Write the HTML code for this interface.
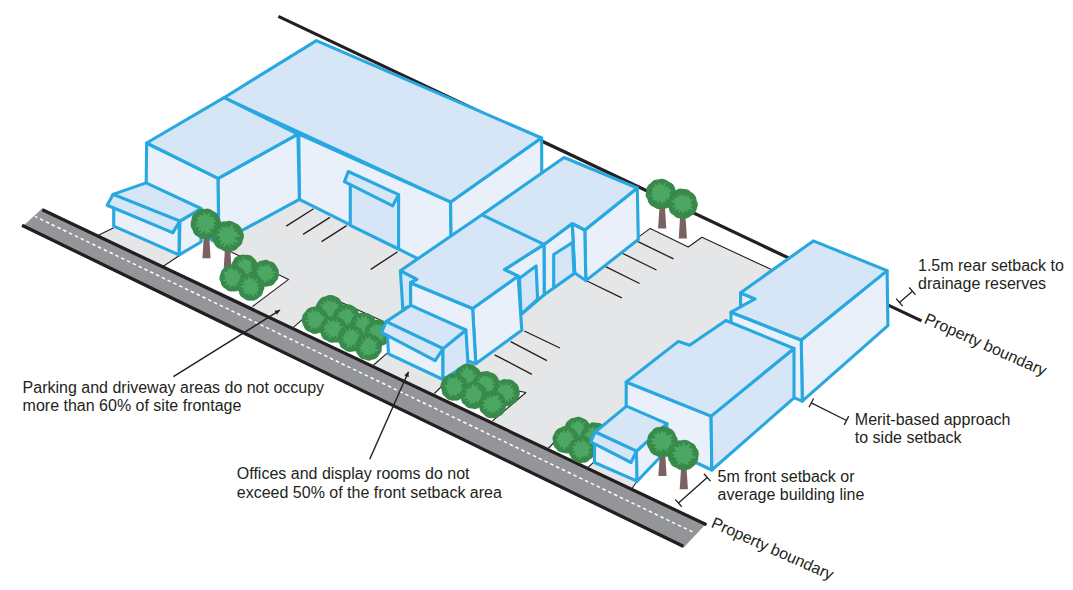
<!DOCTYPE html>
<html><head><meta charset="utf-8"><style>
html,body{margin:0;padding:0;background:#fff;}
#c{position:relative;width:1073px;height:590px;overflow:hidden;background:#fff;font-family:"Liberation Sans",sans-serif;font-size:16px;color:#231f20;}
svg{position:absolute;left:0;top:0;}
.t{position:absolute;white-space:nowrap;line-height:18.4px;}
.r{position:absolute;white-space:nowrap;transform-origin:0 0;}
</style></head><body><div id="c">
<svg width="1073" height="590" viewBox="0 0 1073 590">
<polyline points="278.4,16.4 921.5,320.9" fill="none" stroke="#231f20" stroke-width="3.2" stroke-linecap="butt" stroke-linejoin="round" />
<polygon points="98.4,235.3 113.7,227.7 146.0,200.0 224.0,160.0 299.0,185.0 451.0,240.0 500.0,215.0 560.0,215.0 638.7,236.9 650.2,228.4 688.3,247.0 701.9,237.2 772.3,270.0 790.0,300.0 760.0,320.0 700.0,360.0 640.0,400.0 637.1,481.2 632.5,489.0 98.4,235.3" fill="#e5e6e8" />
<polyline points="98.4,235.3 113.7,227.7" fill="none" stroke="#231f20" stroke-width="1.1" stroke-linecap="butt" stroke-linejoin="round" />
<polyline points="638.7,236.9 650.2,228.4 688.3,247.0 701.9,237.2 772.3,270.0" fill="none" stroke="#231f20" stroke-width="1.1" stroke-linecap="butt" stroke-linejoin="round" />
<polyline points="637.1,481.2 632.0,488.5" fill="none" stroke="#231f20" stroke-width="1.1" stroke-linecap="butt" stroke-linejoin="round" />
<polygon points="163.7,265.5 178.0,256.5 203.5,241.2 217.0,245.2 288.6,279.4 252.5,306.5" fill="#ffffff" />
<polyline points="163.7,266.0 179.5,255.5" fill="none" stroke="#231f20" stroke-width="1.1" stroke-linecap="butt" stroke-linejoin="round" />
<polyline points="217.0,245.2 288.6,279.4 252.5,306.5" fill="none" stroke="#231f20" stroke-width="1.1" stroke-linecap="butt" stroke-linejoin="round" />
<polygon points="293.4,327.3 328.3,296.6 383.5,321.6 388.0,352.3 373.6,365.0" fill="#ffffff" />
<polyline points="293.4,327.3 328.3,296.6 383.5,321.6" fill="none" stroke="#231f20" stroke-width="1.1" stroke-linecap="butt" stroke-linejoin="round" />
<polyline points="388.0,352.3 373.6,365.0" fill="none" stroke="#231f20" stroke-width="1.1" stroke-linecap="butt" stroke-linejoin="round" />
<polygon points="434.4,393.5 450.0,378.0 525.9,392.5 492.5,420.8" fill="#ffffff" />
<polyline points="434.4,393.5 450.0,378.0 525.9,392.5 492.5,420.8" fill="none" stroke="#231f20" stroke-width="1.1" stroke-linecap="butt" stroke-linejoin="round" />
<polygon points="548.3,448.5 560.0,436.0 600.0,445.0 594.0,461.8 588.5,467.0" fill="#ffffff" />
<polyline points="548.3,448.5 560.0,436.0" fill="none" stroke="#231f20" stroke-width="1.1" stroke-linecap="butt" stroke-linejoin="round" />
<polyline points="594.0,461.8 588.5,467.0" fill="none" stroke="#231f20" stroke-width="1.1" stroke-linecap="butt" stroke-linejoin="round" />
<polyline points="286.2,226.1 313.6,208.7" fill="none" stroke="#231f20" stroke-width="1.3" stroke-linecap="butt" stroke-linejoin="round" />
<polyline points="303.1,234.4 329.9,217.4" fill="none" stroke="#231f20" stroke-width="1.3" stroke-linecap="butt" stroke-linejoin="round" />
<polyline points="321.6,241.6 346.6,225.6" fill="none" stroke="#231f20" stroke-width="1.3" stroke-linecap="butt" stroke-linejoin="round" />
<polyline points="370.7,269.4 397.6,251.8" fill="none" stroke="#231f20" stroke-width="1.3" stroke-linecap="butt" stroke-linejoin="round" />
<polyline points="524.3,331.0 559.9,348.0" fill="none" stroke="#231f20" stroke-width="1.3" stroke-linecap="butt" stroke-linejoin="round" />
<polyline points="510.7,341.7 546.9,360.7" fill="none" stroke="#231f20" stroke-width="1.3" stroke-linecap="butt" stroke-linejoin="round" />
<polyline points="494.6,354.8 531.9,374.3" fill="none" stroke="#231f20" stroke-width="1.3" stroke-linecap="butt" stroke-linejoin="round" />
<polyline points="587.0,281.0 621.8,297.9" fill="none" stroke="#231f20" stroke-width="1.3" stroke-linecap="butt" stroke-linejoin="round" />
<polyline points="605.6,266.6 639.6,283.5" fill="none" stroke="#231f20" stroke-width="1.3" stroke-linecap="butt" stroke-linejoin="round" />
<polyline points="621.8,253.0 656.5,270.0" fill="none" stroke="#231f20" stroke-width="1.3" stroke-linecap="butt" stroke-linejoin="round" />
<polyline points="637.0,241.1 673.5,258.9" fill="none" stroke="#231f20" stroke-width="1.3" stroke-linecap="butt" stroke-linejoin="round" />
<polygon points="42.4,208.2 706.5,523.2 683.3,547.9 22.0,226.9" fill="#939598" />
<polyline points="42.4,209.8 706.5,524.8" fill="none" stroke="#231f20" stroke-width="3.2" stroke-linecap="butt" stroke-linejoin="round" />
<polyline points="22.0,225.3 683.3,546.3" fill="none" stroke="#231f20" stroke-width="3.2" stroke-linecap="butt" stroke-linejoin="round" />
<polyline points="34.8,216.4 692.5,531.9" fill="none" stroke="#ffffff" stroke-width="1.5" stroke-linecap="butt" stroke-linejoin="round" stroke-dasharray="3.5 2.931" stroke-dashoffset="0.64"/>
<polygon points="224.0,97.7 316.4,40.6 541.6,138.0 450.6,202.2" fill="#d6e6f6" stroke="#27a8e0" stroke-width="3.1" stroke-linejoin="round" />
<polygon points="298.8,134.2 450.6,202.2 451.5,275.5 299.4,199.4" fill="#e9f0fa" stroke="#27a8e0" stroke-width="3.1" stroke-linejoin="round" />
<polygon points="450.6,202.2 541.6,138.0 542.0,210.0 451.5,275.5" fill="#e9f0fa" stroke="#27a8e0" stroke-width="3.1" stroke-linejoin="round" />
<polygon points="350.3,183.7 398.6,194.7 398.6,249.0 350.3,225.3" fill="#d6e6f6" stroke="#27a8e0" stroke-width="3.1" stroke-linejoin="round" />
<polygon points="348.3,171.5 398.6,194.7 392.7,205.8 344.4,181.7" fill="#d6e6f6" stroke="#27a8e0" stroke-width="3.1" stroke-linejoin="round" />
<polygon points="146.6,143.0 218.2,178.3 218.8,243.0 146.0,208.0" fill="#e9f0fa" stroke="#27a8e0" stroke-width="3.1" stroke-linejoin="round" />
<polygon points="218.2,178.3 297.9,134.2 299.4,199.4 218.8,243.0" fill="#e9f0fa" stroke="#27a8e0" stroke-width="3.1" stroke-linejoin="round" />
<polygon points="146.6,143.0 224.1,97.7 297.9,134.2 218.2,178.3" fill="#d6e6f6" stroke="#27a8e0" stroke-width="3.1" stroke-linejoin="round" />
<polygon points="113.7,205.0 172.7,232.6 179.2,222.0 179.2,254.9 113.7,226.1" fill="#e9f0fa" stroke="#27a8e0" stroke-width="3.1" stroke-linejoin="round" />
<polygon points="179.9,221.1 201.0,208.5 201.0,242.0 179.2,254.9" fill="#e9f0fa" stroke="#27a8e0" stroke-width="3.1" stroke-linejoin="round" />
<polygon points="113.0,194.4 146.1,182.9 201.0,208.5 179.9,221.1" fill="#d6e6f6" stroke="#27a8e0" stroke-width="3.1" stroke-linejoin="round" />
<polygon points="113.0,194.4 179.9,221.1 172.7,232.6 107.2,205.2" fill="#d6e6f6" stroke="#27a8e0" stroke-width="3.1" stroke-linejoin="round" />
<polygon points="204.3,228.9 208.7,228.9 210.6,258.2 202.4,258.2" fill="#7b6262" />
<path d="M206.6,238.6 A9.3,9.3 0 0 1 197.5,236.4 A7.6,7.6 0 0 1 192.8,230.5 A11.1,11.1 0 0 1 191.6,219.5 A7.5,7.5 0 0 1 195.2,212.9 A10.0,10.0 0 0 1 204.4,208.9 A9.3,9.3 0 0 1 213.4,211.2 A8.3,8.3 0 0 1 219.0,217.3 A11.2,11.2 0 0 1 219.7,228.4 A8.8,8.8 0 0 1 214.7,235.7 A8.6,8.6 0 0 1 206.6,238.6Z" fill="#388a4b"/>
<polygon points="215.6,225.3 212.7,226.7 215.5,230.0 210.0,228.5 211.3,233.9 207.9,231.7 205.7,234.6 204.7,230.4 200.2,234.6 201.0,229.7 197.7,230.7 199.3,227.0 193.8,226.8 198.2,223.8 194.5,222.8 198.3,220.4 196.4,216.7 199.4,217.3 199.6,214.8 203.2,215.8 204.3,211.8 206.5,215.5 210.9,212.0 209.9,217.3 214.4,216.5 212.9,219.4 216.2,220.6 213.4,223.3" fill="#4ca664" />
<polygon points="225.4,241.2 229.8,241.2 231.7,272.0 223.5,272.0" fill="#7b6262" />
<path d="M230.4,251.1 A9.4,9.4 0 0 1 221.2,249.5 A10.1,10.1 0 0 1 213.7,242.6 A10.7,10.7 0 0 1 213.1,231.9 A7.8,7.8 0 0 1 217.3,225.3 A9.5,9.5 0 0 1 225.9,221.4 A8.8,8.8 0 0 1 234.6,222.8 A11.8,11.8 0 0 1 242.6,231.4 A9.2,9.2 0 0 1 242.7,240.6 A7.6,7.6 0 0 1 238.5,246.9 A9.1,9.1 0 0 1 230.4,251.1Z" fill="#388a4b"/>
<polygon points="234.9,246.3 230.0,242.8 230.5,247.7 227.7,243.5 222.7,248.1 224.6,242.1 219.3,245.8 222.0,240.5 218.3,240.3 220.5,236.8 215.0,235.0 220.4,233.1 217.6,229.1 222.6,230.4 220.7,225.9 225.4,227.9 226.1,225.0 228.0,228.5 232.9,223.6 232.3,229.2 235.6,228.0 233.6,231.8 237.8,231.7 236.4,233.8 240.7,235.8 234.3,238.2 239.6,242.7 233.0,241.9" fill="#4ca664" />
<polygon points="660.0,199.0 664.4,199.0 666.3,228.4 658.1,228.4" fill="#7b6262" />
<path d="M670.2,205.9 A7.5,7.5 0 0 1 663.2,208.7 A9.7,9.7 0 0 1 653.6,207.0 A10.1,10.1 0 0 1 647.4,199.0 A7.0,7.0 0 0 1 646.0,192.2 A10.4,10.4 0 0 1 650.9,182.9 A8.0,8.0 0 0 1 658.1,179.5 A11.1,11.1 0 0 1 668.9,181.7 A9.8,9.8 0 0 1 675.3,189.2 A6.6,6.6 0 0 1 675.4,195.8 A11.4,11.4 0 0 1 670.2,205.9Z" fill="#388a4b"/>
<polygon points="673.2,195.3 668.4,196.9 671.4,200.5 665.5,198.6 665.9,202.1 662.7,202.1 662.0,204.4 659.4,200.6 657.7,203.5 656.5,200.4 652.5,200.0 653.7,196.9 648.4,196.4 652.8,194.8 651.1,192.9 653.0,190.7 652.2,187.6 655.3,186.9 654.6,184.1 658.5,185.3 659.0,182.0 662.7,185.8 665.8,182.1 664.9,187.6 669.5,185.8 668.0,189.1 671.7,189.9 669.2,193.4" fill="#4ca664" />
<polygon points="680.6,208.7 685.0,208.7 686.9,238.5 678.7,238.5" fill="#7b6262" />
<path d="M696.7,201.0 A6.6,6.6 0 0 1 697.1,207.6 A11.0,11.0 0 0 1 690.4,216.3 A7.9,7.9 0 0 1 682.8,218.4 A9.9,9.9 0 0 1 673.4,215.1 A7.8,7.8 0 0 1 669.0,208.7 A9.7,9.7 0 0 1 668.7,198.9 A10.9,10.9 0 0 1 675.6,190.5 A7.9,7.9 0 0 1 683.3,189.1 A8.2,8.2 0 0 1 691.0,192.1 A10.7,10.7 0 0 1 696.7,201.0Z" fill="#388a4b"/>
<polygon points="693.8,209.8 687.3,209.2 687.5,212.4 685.1,210.0 683.1,213.6 681.0,209.9 679.6,212.8 678.1,209.2 674.8,210.8 676.0,207.0 672.1,207.4 675.7,204.2 670.7,200.9 674.7,200.1 673.2,197.5 677.3,198.0 677.8,194.9 680.0,196.0 681.3,193.7 683.6,196.8 686.2,193.8 685.8,197.1 689.2,195.7 689.6,199.4 693.7,199.3 690.1,202.6 693.0,205.5 689.8,206.7" fill="#4ca664" />
<polygon points="584.8,230.0 637.3,188.0 638.3,239.5 585.8,280.6" fill="#e9f0fa" stroke="#27a8e0" stroke-width="3.1" stroke-linejoin="round" />
<polygon points="572.2,223.5 584.8,230.0 585.8,280.6 574.7,272.9" fill="#e9f0fa" stroke="#27a8e0" stroke-width="3.1" stroke-linejoin="round" />
<polygon points="544.0,244.4 572.2,223.5 574.7,272.9 544.2,294.7" fill="#e9f0fa" stroke="#27a8e0" stroke-width="3.1" stroke-linejoin="round" />
<polygon points="553.7,254.5 572.5,242.5 574.0,273.4 553.7,287.9" fill="#d6e6f6" stroke="#27a8e0" stroke-width="3.1" stroke-linejoin="round" />
<polygon points="504.4,269.6 544.0,244.4 544.2,294.7 521.0,314.5 518.1,276.1" fill="#e9f0fa" stroke="#27a8e0" stroke-width="3.1" stroke-linejoin="round" />
<polygon points="519.5,278.2 536.1,266.0 537.6,299.1 521.0,314.3" fill="#d6e6f6" stroke="#27a8e0" stroke-width="3.1" stroke-linejoin="round" />
<polygon points="472.6,308.5 518.1,276.1 521.8,330.2 475.8,363.7" fill="#e9f0fa" stroke="#27a8e0" stroke-width="3.1" stroke-linejoin="round" />
<polygon points="410.5,282.7 472.6,308.5 475.8,363.7 411.0,340.0" fill="#e9f0fa" stroke="#27a8e0" stroke-width="3.1" stroke-linejoin="round" />
<polygon points="400.4,270.7 417.0,279.3 410.5,282.7 410.5,306.0 402.8,309.0" fill="#d6e6f6" stroke="#27a8e0" stroke-width="3.1" stroke-linejoin="round" />
<polygon points="400.4,270.7 482.0,214.8 564.1,157.5 637.3,188.0 584.8,230.0 572.2,223.5 544.0,244.4 504.4,269.6 518.1,276.1 472.6,308.5 410.5,282.7 417.0,279.3" fill="#d6e6f6" stroke="#27a8e0" stroke-width="3.1" stroke-linejoin="round" />
<polyline points="482.0,214.8 544.0,244.4" fill="none" stroke="#27a8e0" stroke-width="3.1" stroke-linecap="butt" stroke-linejoin="round" />
<path d="M245.6,255.0 A8.7,8.7 0 0 1 253.7,258.1 A8.7,8.7 0 0 1 257.4,266.0 A7.2,7.2 0 0 1 256.7,273.2 A8.8,8.8 0 0 1 250.4,279.3 A8.5,8.5 0 0 1 242.0,280.5 A8.1,8.1 0 0 1 235.0,276.5 A7.9,7.9 0 0 1 231.7,269.3 A8.2,8.2 0 0 1 233.1,261.1 A7.1,7.1 0 0 1 238.1,256.1 A7.5,7.5 0 0 1 245.6,255.0Z" fill="#388a4b"/>
<polygon points="253.3,268.3 250.2,268.8 253.3,272.2 248.6,271.5 249.2,275.2 246.4,273.2 245.9,277.5 243.9,273.5 240.7,276.7 239.9,273.5 237.6,276.1 238.4,270.9 235.4,270.7 236.9,268.3 234.1,267.0 238.2,264.9 236.9,262.6 239.0,263.1 239.0,260.0 242.5,261.7 242.5,256.5 245.3,259.9 246.3,258.9 247.6,260.8 250.4,260.3 250.7,263.6 252.3,263.5 250.4,266.5" fill="#4ca664" />
<path d="M276.9,266.9 A7.5,7.5 0 0 1 278.5,274.3 A8.3,8.3 0 0 1 275.4,281.9 A8.6,8.6 0 0 1 267.9,286.2 A8.6,8.6 0 0 1 259.5,284.9 A7.0,7.0 0 0 1 254.0,280.5 A9.9,9.9 0 0 1 252.4,270.7 A7.6,7.6 0 0 1 256.3,264.3 A7.3,7.3 0 0 1 262.6,260.5 A7.1,7.1 0 0 1 269.6,261.3 A9.2,9.2 0 0 1 276.9,266.9Z" fill="#388a4b"/>
<polygon points="273.3,279.6 268.3,278.7 269.4,281.7 266.4,280.6 264.6,282.9 262.7,279.6 259.3,281.5 260.8,277.6 255.7,279.9 259.2,275.6 256.4,274.0 257.9,272.6 255.8,271.0 259.3,269.4 256.8,266.9 261.1,267.1 260.1,263.3 263.5,267.1 266.3,264.1 266.8,266.4 270.1,264.1 269.7,267.5 272.4,268.1 271.9,270.7 276.3,272.4 272.2,274.0 275.3,276.0 271.1,277.4" fill="#4ca664" />
<path d="M245.5,281.4 A9.6,9.6 0 0 1 239.8,289.2 A7.4,7.4 0 0 1 232.6,291.2 A7.6,7.6 0 0 1 225.4,288.8 A8.2,8.2 0 0 1 220.7,282.1 A7.3,7.3 0 0 1 220.2,274.8 A10.1,10.1 0 0 1 226.2,266.7 A7.6,7.6 0 0 1 233.6,265.0 A7.0,7.0 0 0 1 240.1,267.3 A9.6,9.6 0 0 1 245.9,275.0 A6.5,6.5 0 0 1 245.5,281.4Z" fill="#388a4b"/>
<polygon points="237.4,286.3 235.2,284.3 234.5,286.9 232.2,285.1 229.8,288.5 229.4,284.0 225.3,285.2 227.3,281.3 222.2,281.0 225.8,278.3 224.0,276.9 225.3,275.8 222.9,271.4 227.8,271.8 227.7,268.3 230.7,270.2 230.9,266.1 233.5,270.7 236.8,268.4 236.8,272.1 239.1,270.9 237.7,274.1 241.9,273.6 239.5,277.4 244.0,279.2 238.7,279.8 242.2,284.3 237.4,282.1" fill="#4ca664" />
<path d="M263.6,283.9 A7.9,7.9 0 0 1 263.0,291.7 A6.6,6.6 0 0 1 259.2,297.2 A8.8,8.8 0 0 1 251.1,300.6 A8.2,8.2 0 0 1 243.3,298.1 A7.2,7.2 0 0 1 239.0,292.3 A9.4,9.4 0 0 1 238.5,283.0 A6.9,6.9 0 0 1 242.7,277.5 A7.6,7.6 0 0 1 249.5,274.0 A8.4,8.4 0 0 1 257.6,276.3 A9.7,9.7 0 0 1 263.6,283.9Z" fill="#388a4b"/>
<polygon points="257.9,296.2 254.3,293.6 253.5,297.4 250.8,293.5 248.4,295.4 247.8,293.4 243.4,294.2 245.7,290.3 240.8,291.4 244.5,288.7 239.3,286.3 245.0,285.2 240.1,282.2 244.8,282.3 243.8,277.7 247.5,280.8 249.2,275.6 250.5,279.4 252.7,277.8 254.1,281.5 257.6,277.7 256.2,283.1 259.5,283.0 256.9,285.3 260.1,288.0 258.1,288.1 258.7,290.5 256.4,292.3" fill="#4ca664" />
<path d="M325.4,322.8 A8.8,8.8 0 0 1 318.4,317.4 A7.5,7.5 0 0 1 316.2,310.2 A8.4,8.4 0 0 1 317.9,302.1 A9.2,9.2 0 0 1 325.3,296.5 A10.3,10.3 0 0 1 335.6,296.5 A8.1,8.1 0 0 1 341.4,302.1 A7.3,7.3 0 0 1 344.1,308.9 A10.1,10.1 0 0 1 340.8,318.5 A8.4,8.4 0 0 1 333.5,322.7 A8.1,8.1 0 0 1 325.4,322.8Z" fill="#388a4b"/>
<polygon points="339.3,312.6 335.5,312.5 337.5,318.4 333.4,315.6 332.3,321.0 330.1,315.3 328.6,320.6 326.9,316.5 324.5,317.4 325.0,313.9 320.5,315.3 323.5,311.1 318.7,308.9 323.3,308.1 319.6,303.8 324.3,305.1 322.6,299.9 326.3,303.5 327.2,299.3 330.2,302.3 332.0,299.3 332.3,302.9 335.6,301.0 335.2,303.4 339.5,304.5 337.1,306.5 341.6,308.6 336.4,309.6" fill="#4ca664" />
<path d="M358.7,313.4 A7.6,7.6 0 0 1 359.2,320.9 A7.7,7.7 0 0 1 355.2,327.5 A9.5,9.5 0 0 1 346.3,330.9 A6.9,6.9 0 0 1 339.8,328.5 A9.3,9.3 0 0 1 333.7,321.4 A8.3,8.3 0 0 1 333.9,313.1 A7.1,7.1 0 0 1 338.3,307.6 A8.4,8.4 0 0 1 346.1,304.5 A8.5,8.5 0 0 1 354.3,306.7 A7.9,7.9 0 0 1 358.7,313.4Z" fill="#388a4b"/>
<polygon points="356.3,323.1 350.5,322.3 351.8,326.3 348.4,322.7 346.9,328.9 344.8,323.1 343.4,325.6 342.2,321.8 338.4,323.0 340.3,320.8 336.2,320.0 339.1,317.4 336.9,315.5 339.7,314.2 338.7,312.1 342.4,311.8 341.8,308.3 345.1,311.1 346.0,306.6 347.1,309.4 350.5,309.1 350.7,312.0 353.5,309.9 351.3,313.8 355.0,313.8 354.0,317.4 357.3,319.0 353.4,320.1" fill="#4ca664" />
<path d="M350.9,321.3 A9.0,9.0 0 0 1 356.8,314.5 A7.9,7.9 0 0 1 364.6,313.1 A6.3,6.3 0 0 1 370.6,314.8 A8.2,8.2 0 0 1 375.6,321.4 A9.0,9.0 0 0 1 375.7,330.4 A6.5,6.5 0 0 1 372.0,335.7 A8.1,8.1 0 0 1 364.7,339.0 A10.6,10.6 0 0 1 354.5,336.1 A6.0,6.0 0 0 1 351.6,330.9 A9.6,9.6 0 0 1 350.9,321.3Z" fill="#388a4b"/>
<polygon points="369.4,332.9 365.9,332.2 364.2,337.2 362.8,331.7 360.5,335.3 359.2,332.0 357.2,332.7 357.7,328.9 352.5,330.5 355.7,326.6 353.4,325.4 357.4,323.7 353.8,320.4 357.6,321.2 356.8,315.8 360.9,319.8 361.7,314.2 363.2,318.0 366.6,314.9 366.9,319.3 369.4,318.6 368.5,321.8 372.3,321.5 370.8,324.5 372.2,326.1 369.6,327.1 371.0,330.3 368.5,330.8" fill="#4ca664" />
<path d="M391.3,333.6 A8.2,8.2 0 0 1 388.3,341.2 A9.5,9.5 0 0 1 380.0,345.8 A6.9,6.9 0 0 1 373.1,345.1 A7.7,7.7 0 0 1 366.9,340.4 A9.7,9.7 0 0 1 365.0,330.9 A8.5,8.5 0 0 1 369.1,323.4 A7.8,7.8 0 0 1 376.1,319.9 A7.7,7.7 0 0 1 383.7,321.1 A7.7,7.7 0 0 1 389.1,326.6 A7.4,7.4 0 0 1 391.3,333.6Z" fill="#388a4b"/>
<polygon points="385.9,336.2 383.0,337.6 383.5,341.8 380.2,338.8 380.3,341.0 377.0,339.2 375.1,342.5 375.0,338.6 371.2,339.6 371.8,337.1 367.6,337.3 371.7,333.3 366.4,332.1 370.9,331.1 368.8,327.8 372.2,327.6 371.6,325.4 375.5,325.6 375.5,321.9 377.7,325.9 380.2,323.2 380.6,326.3 384.8,323.2 383.3,329.2 388.5,328.7 384.1,331.5 386.8,332.4 385.1,334.9" fill="#4ca664" />
<path d="M324.0,329.6 A7.0,7.0 0 0 1 318.1,333.2 A7.5,7.5 0 0 1 310.6,332.4 A10.3,10.3 0 0 1 303.2,325.2 A6.0,6.0 0 0 1 302.1,319.3 A8.0,8.0 0 0 1 305.2,312.0 A9.6,9.6 0 0 1 313.4,306.8 A7.7,7.7 0 0 1 321.0,308.3 A9.3,9.3 0 0 1 327.7,314.8 A8.1,8.1 0 0 1 328.5,322.8 A8.1,8.1 0 0 1 324.0,329.6Z" fill="#388a4b"/>
<polygon points="326.4,322.9 321.0,323.2 323.4,327.0 318.7,325.7 318.7,327.7 316.4,327.3 315.0,329.0 313.4,327.0 310.1,329.9 310.9,325.4 307.6,325.2 309.5,321.8 304.5,321.1 309.3,319.0 306.1,316.8 308.7,315.6 306.5,312.2 311.1,313.1 312.0,308.4 314.4,313.0 315.2,309.1 317.2,312.7 319.9,311.5 319.8,314.0 322.9,315.2 321.3,317.0 325.5,316.9 322.9,320.8" fill="#4ca664" />
<path d="M346.6,331.5 A9.1,9.1 0 0 1 342.2,339.4 A9.0,9.0 0 0 1 333.7,342.4 A6.4,6.4 0 0 1 327.4,341.1 A9.7,9.7 0 0 1 320.8,333.9 A7.2,7.2 0 0 1 320.4,326.8 A7.1,7.1 0 0 1 323.6,320.5 A9.2,9.2 0 0 1 331.7,316.3 A8.1,8.1 0 0 1 339.7,317.8 A7.6,7.6 0 0 1 345.2,323.1 A8.5,8.5 0 0 1 346.6,331.5Z" fill="#388a4b"/>
<polygon points="341.8,336.9 337.9,335.1 338.5,338.9 334.9,335.4 332.7,338.5 332.1,335.3 329.2,339.2 328.9,334.1 325.1,335.9 327.6,331.5 322.1,332.7 325.7,328.9 323.6,326.3 326.2,325.5 325.4,323.0 328.9,324.7 326.9,319.0 331.8,322.2 333.2,319.5 335.0,322.5 337.6,319.5 337.8,323.3 340.9,322.1 338.8,326.1 343.9,326.0 340.3,328.8 343.5,330.4 339.6,332.0" fill="#4ca664" />
<path d="M362.9,331.9 A9.6,9.6 0 0 1 363.6,341.4 A6.6,6.6 0 0 1 360.4,347.2 A8.7,8.7 0 0 1 352.9,351.4 A9.2,9.2 0 0 1 343.9,349.4 A6.7,6.7 0 0 1 339.6,344.3 A9.2,9.2 0 0 1 337.9,335.2 A7.0,7.0 0 0 1 341.6,329.3 A9.4,9.4 0 0 1 349.9,324.9 A8.5,8.5 0 0 1 358.0,327.3 A6.6,6.6 0 0 1 362.9,331.9Z" fill="#388a4b"/>
<polygon points="361.5,338.0 356.9,340.1 358.7,342.0 355.5,343.4 356.2,347.6 352.8,344.0 351.7,348.5 350.4,344.8 347.0,348.7 347.0,343.0 344.7,344.2 344.8,342.2 341.4,340.3 344.0,339.4 342.0,336.8 344.9,335.8 342.7,333.9 346.1,333.4 345.2,327.9 348.6,332.4 349.5,327.5 351.4,330.9 353.3,328.6 355.0,332.0 359.0,329.5 356.3,335.1 361.0,333.3 357.9,337.0" fill="#4ca664" />
<path d="M379.3,354.4 A9.1,9.1 0 0 1 372.0,359.8 A7.2,7.2 0 0 1 364.9,359.5 A7.9,7.9 0 0 1 358.2,355.2 A7.5,7.5 0 0 1 355.9,348.1 A8.8,8.8 0 0 1 357.8,339.4 A7.9,7.9 0 0 1 364.2,334.8 A9.4,9.4 0 0 1 373.6,335.1 A7.2,7.2 0 0 1 379.3,339.6 A8.8,8.8 0 0 1 381.7,348.0 A6.8,6.8 0 0 1 379.3,354.4Z" fill="#388a4b"/>
<polygon points="375.1,354.1 371.9,353.1 370.8,355.6 368.9,354.5 367.8,355.8 366.1,353.7 362.9,356.9 363.4,350.7 359.6,352.7 361.2,349.2 359.1,347.8 362.6,345.3 357.4,343.6 363.3,343.7 361.4,339.0 365.0,341.5 365.9,335.9 367.8,339.6 370.1,335.1 370.8,340.5 373.2,338.5 373.9,342.1 378.3,340.3 375.0,345.3 378.2,345.5 374.5,347.7 379.1,351.0 374.5,351.5" fill="#4ca664" />
<polygon points="387.4,334.0 443.0,348.6 443.0,379.5 388.5,353.8" fill="#e9f0fa" stroke="#27a8e0" stroke-width="3.1" stroke-linejoin="round" />
<polygon points="443.0,348.6 465.9,330.0 468.0,363.8 443.0,379.5" fill="#d6e6f6" stroke="#27a8e0" stroke-width="3.1" stroke-linejoin="round" />
<polygon points="386.2,321.6 410.9,305.3 465.9,330.0 443.0,348.6" fill="#d6e6f6" stroke="#27a8e0" stroke-width="3.1" stroke-linejoin="round" />
<polygon points="386.2,321.6 443.0,348.6 435.2,360.6 381.5,332.3" fill="#d6e6f6" stroke="#27a8e0" stroke-width="3.1" stroke-linejoin="round" />
<path d="M465.9,390.7 A7.3,7.3 0 0 1 459.1,387.9 A8.5,8.5 0 0 1 454.8,380.5 A9.0,9.0 0 0 1 456.0,371.6 A6.3,6.3 0 0 1 460.0,366.7 A8.7,8.7 0 0 1 468.3,364.2 A8.3,8.3 0 0 1 476.0,367.3 A9.1,9.1 0 0 1 481.1,374.8 A9.4,9.4 0 0 1 479.8,384.1 A6.5,6.5 0 0 1 475.2,388.6 A9.6,9.6 0 0 1 465.9,390.7Z" fill="#388a4b"/>
<polygon points="475.4,382.2 471.8,382.2 473.6,386.1 470.1,384.1 468.3,387.9 466.9,383.8 464.1,387.9 463.1,383.3 459.1,385.5 460.5,380.5 458.6,379.9 460.9,377.3 457.7,376.2 462.0,374.6 458.5,371.4 463.2,372.9 462.7,368.1 464.7,370.0 466.7,365.8 469.0,370.1 470.7,368.9 472.3,371.5 474.1,370.6 473.1,374.5 479.2,374.2 475.0,376.6 479.4,379.2 474.0,380.3" fill="#4ca664" />
<path d="M499.6,386.4 A8.6,8.6 0 0 1 495.9,394.1 A8.0,8.0 0 0 1 489.0,398.3 A7.0,7.0 0 0 1 482.1,397.7 A9.2,9.2 0 0 1 474.9,392.0 A7.3,7.3 0 0 1 472.5,385.1 A10.5,10.5 0 0 1 476.4,375.4 A8.3,8.3 0 0 1 483.7,371.5 A6.4,6.4 0 0 1 490.1,372.2 A10.5,10.5 0 0 1 498.3,378.8 A7.8,7.8 0 0 1 499.6,386.4Z" fill="#388a4b"/>
<polygon points="496.2,387.2 493.1,388.2 493.8,392.2 490.4,390.6 490.3,394.4 486.7,391.0 486.0,396.2 483.8,390.5 480.8,395.3 480.6,390.0 477.9,389.4 478.9,387.2 477.2,385.2 478.5,384.0 476.1,380.7 480.0,380.7 478.2,376.0 481.3,378.9 482.2,375.2 485.1,376.9 486.4,375.7 488.4,377.6 491.2,376.5 490.2,379.4 493.4,378.4 492.1,381.9 495.4,382.8 492.1,384.8" fill="#4ca664" />
<path d="M500.3,380.5 A6.4,6.4 0 0 1 506.6,379.4 A10.0,10.0 0 0 1 515.8,383.2 A6.9,6.9 0 0 1 519.0,389.3 A10.1,10.1 0 0 1 517.7,399.3 A6.4,6.4 0 0 1 513.2,403.8 A8.7,8.7 0 0 1 504.8,405.9 A9.3,9.3 0 0 1 496.3,402.2 A9.5,9.5 0 0 1 492.4,393.6 A7.1,7.1 0 0 1 493.9,386.7 A8.9,8.9 0 0 1 500.3,380.5Z" fill="#388a4b"/>
<polygon points="516.3,396.1 512.0,396.4 511.8,400.3 508.7,398.0 509.3,402.2 506.4,400.0 503.9,401.5 502.7,398.7 498.0,401.3 500.7,397.1 497.7,397.0 498.7,394.0 494.9,392.1 498.5,390.5 497.2,387.3 500.5,388.4 498.7,382.3 503.3,386.4 503.2,383.6 505.9,385.2 507.0,382.4 508.7,386.0 512.3,383.3 510.5,388.1 513.9,388.1 512.4,390.4 515.2,391.4 512.1,393.0" fill="#4ca664" />
<path d="M447.2,375.8 A8.7,8.7 0 0 1 455.7,373.7 A8.1,8.1 0 0 1 463.2,376.7 A7.5,7.5 0 0 1 467.3,383.0 A7.7,7.7 0 0 1 467.0,390.7 A8.7,8.7 0 0 1 462.0,397.8 A7.9,7.9 0 0 1 454.6,400.5 A10.2,10.2 0 0 1 445.0,396.8 A7.4,7.4 0 0 1 441.7,390.2 A9.2,9.2 0 0 1 441.9,381.0 A7.4,7.4 0 0 1 447.2,375.8Z" fill="#388a4b"/>
<polygon points="458.6,394.3 456.8,393.1 456.3,396.4 453.0,394.2 449.8,397.6 450.2,393.3 447.8,393.6 447.3,390.3 446.1,390.3 446.5,387.2 442.6,385.5 447.7,384.7 446.8,381.0 449.0,380.8 448.0,376.2 451.5,379.3 452.1,377.4 454.6,378.8 456.5,376.5 457.9,381.1 461.9,378.8 459.8,382.4 463.9,383.3 460.5,385.8 463.8,388.2 461.4,388.7 464.8,392.0 460.3,391.5" fill="#4ca664" />
<path d="M467.2,383.8 A8.5,8.5 0 0 1 475.5,382.0 A7.0,7.0 0 0 1 481.9,384.7 A9.4,9.4 0 0 1 487.0,392.6 A9.0,9.0 0 0 1 486.0,401.6 A8.1,8.1 0 0 1 479.9,407.0 A7.6,7.6 0 0 1 472.4,408.4 A8.7,8.7 0 0 1 464.5,404.8 A6.6,6.6 0 0 1 461.1,399.1 A9.4,9.4 0 0 1 461.8,389.8 A8.1,8.1 0 0 1 467.2,383.8Z" fill="#388a4b"/>
<polygon points="482.1,401.6 478.2,400.2 478.4,402.9 475.0,400.8 475.0,404.4 472.6,401.9 470.0,404.9 469.5,400.1 466.1,401.5 467.8,398.3 462.7,398.9 466.2,395.5 464.4,392.8 467.9,392.8 464.6,389.0 469.3,389.4 468.7,385.6 472.1,388.7 472.0,383.5 475.6,387.1 477.7,383.5 477.7,389.9 481.3,388.0 479.0,391.0 482.0,391.5 481.2,394.2 485.7,396.3 480.1,397.1" fill="#4ca664" />
<path d="M479.8,400.0 A9.1,9.1 0 0 1 485.7,393.0 A9.3,9.3 0 0 1 494.9,391.5 A6.0,6.0 0 0 1 500.6,393.3 A8.7,8.7 0 0 1 505.1,400.8 A9.6,9.6 0 0 1 504.5,410.4 A7.4,7.4 0 0 1 499.6,416.0 A7.5,7.5 0 0 1 492.4,418.1 A9.6,9.6 0 0 1 483.7,414.2 A7.7,7.7 0 0 1 479.4,407.8 A7.8,7.8 0 0 1 479.8,400.0Z" fill="#388a4b"/>
<polygon points="503.2,407.9 497.8,408.2 499.6,410.8 495.0,409.9 495.5,413.2 493.0,411.7 491.3,414.1 490.4,410.4 487.2,412.4 487.3,408.2 483.0,409.8 484.6,405.6 481.2,404.9 485.3,403.4 481.9,400.1 486.9,400.6 486.3,397.2 489.1,398.6 489.1,395.6 491.6,397.5 493.7,395.2 494.8,396.5 499.8,394.8 497.2,399.5 501.6,399.8 499.6,402.2 504.2,404.1 499.6,405.5" fill="#4ca664" />
<polygon points="801.2,340.0 887.1,270.6 887.9,325.6 802.3,401.1" fill="#e9f0fa" stroke="#27a8e0" stroke-width="3.1" stroke-linejoin="round" />
<polygon points="731.0,312.2 801.2,340.0 802.3,401.1 731.0,372.0" fill="#e9f0fa" stroke="#27a8e0" stroke-width="3.1" stroke-linejoin="round" />
<polygon points="740.6,292.8 755.0,299.0 740.6,307.0" fill="#e9f0fa" stroke="#27a8e0" stroke-width="3.1" stroke-linejoin="round" />
<polygon points="813.3,240.9 887.1,270.6 801.2,340.0 731.0,312.2 755.0,299.0 740.6,292.8" fill="#d6e6f6" stroke="#27a8e0" stroke-width="3.1" stroke-linejoin="round" />
<polygon points="626.2,382.0 711.1,416.1 711.8,470.0 626.2,430.0" fill="#e9f0fa" stroke="#27a8e0" stroke-width="3.1" stroke-linejoin="round" />
<polygon points="711.1,416.1 794.0,348.5 794.0,397.9 711.8,470.0" fill="#d6e6f6" stroke="#27a8e0" stroke-width="3.1" stroke-linejoin="round" />
<polygon points="626.2,382.0 678.4,341.4 689.6,345.3 725.9,320.5 794.0,348.5 711.1,416.1" fill="#d6e6f6" stroke="#27a8e0" stroke-width="3.1" stroke-linejoin="round" />
<path d="M565.8,435.9 A7.6,7.6 0 0 1 565.0,428.3 A8.8,8.8 0 0 1 568.6,420.3 A6.5,6.5 0 0 1 574.5,417.7 A7.8,7.8 0 0 1 582.3,417.9 A10.1,10.1 0 0 1 589.6,424.8 A6.2,6.2 0 0 1 590.5,431.0 A9.6,9.6 0 0 1 586.3,439.6 A8.1,8.1 0 0 1 578.8,442.7 A6.7,6.7 0 0 1 572.1,441.9 A8.8,8.8 0 0 1 565.8,435.9Z" fill="#388a4b"/>
<polygon points="587.9,430.7 583.5,430.8 585.2,433.7 582.4,433.8 583.0,438.3 579.7,435.5 580.0,439.0 576.6,436.3 574.5,440.8 574.0,435.9 570.1,437.7 572.3,432.6 567.9,432.5 569.9,431.0 567.6,428.4 571.0,427.8 570.4,424.8 573.1,424.9 570.4,421.2 575.0,423.6 576.8,419.8 578.0,422.2 580.6,419.4 580.9,423.8 585.9,421.6 582.4,425.8 585.7,426.0 584.3,428.0" fill="#4ca664" />
<path d="M596.9,422.9 A7.0,7.0 0 0 1 603.3,425.9 A9.0,9.0 0 0 1 607.1,434.1 A8.2,8.2 0 0 1 606.0,442.2 A6.2,6.2 0 0 1 602.1,447.0 A9.7,9.7 0 0 1 592.5,448.8 A7.4,7.4 0 0 1 585.7,445.7 A6.8,6.8 0 0 1 581.8,440.2 A9.6,9.6 0 0 1 582.5,430.6 A8.4,8.4 0 0 1 588.3,424.5 A8.8,8.8 0 0 1 596.9,422.9Z" fill="#388a4b"/>
<polygon points="604.9,440.7 599.3,441.0 600.0,445.3 596.5,442.6 595.4,446.1 594.3,442.6 591.5,446.3 590.4,441.9 586.9,442.5 588.1,439.8 585.4,438.4 588.3,436.3 582.9,434.9 587.0,433.5 586.0,431.5 589.4,431.9 588.1,427.7 591.5,428.7 592.2,426.2 595.3,429.3 596.6,426.5 598.2,429.2 602.0,428.6 599.6,431.6 602.6,432.2 600.2,434.3 605.2,436.9 601.3,438.4" fill="#4ca664" />
<path d="M570.5,452.2 A7.0,7.0 0 0 1 563.5,452.8 A8.1,8.1 0 0 1 556.4,449.0 A8.4,8.4 0 0 1 553.1,441.2 A7.3,7.3 0 0 1 554.1,433.9 A9.5,9.5 0 0 1 561.2,427.6 A7.0,7.0 0 0 1 568.1,426.7 A9.6,9.6 0 0 1 576.2,431.9 A8.0,8.0 0 0 1 579.1,439.3 A7.7,7.7 0 0 1 577.3,446.8 A8.7,8.7 0 0 1 570.5,452.2Z" fill="#388a4b"/>
<polygon points="572.2,445.4 569.7,446.1 568.1,447.7 566.8,446.1 563.7,450.4 562.6,446.1 559.5,448.2 560.2,444.0 557.3,444.7 558.5,442.1 556.1,439.5 558.3,437.7 555.6,434.2 559.2,435.4 560.3,432.3 562.5,432.9 563.5,429.5 565.8,433.3 568.7,428.1 569.0,433.0 570.3,431.5 571.3,435.1 573.8,433.8 571.7,437.5 576.8,438.7 573.2,441.0 576.3,443.3 571.3,443.6" fill="#4ca664" />
<path d="M578.6,436.9 A9.8,9.8 0 0 1 588.3,438.3 A7.1,7.1 0 0 1 593.4,443.3 A8.5,8.5 0 0 1 594.9,451.7 A9.4,9.4 0 0 1 589.9,459.6 A7.0,7.0 0 0 1 583.5,462.6 A6.8,6.8 0 0 1 576.8,462.0 A8.7,8.7 0 0 1 570.3,456.1 A8.0,8.0 0 0 1 568.5,448.3 A10.0,10.0 0 0 1 573.3,439.5 A5.9,5.9 0 0 1 578.6,436.9Z" fill="#388a4b"/>
<polygon points="591.3,453.4 587.8,453.2 588.3,456.7 584.8,455.5 583.7,458.0 582.7,455.0 579.6,460.0 578.6,455.8 576.6,458.1 575.9,454.2 571.9,454.7 575.7,451.3 572.4,450.8 573.9,448.5 571.4,446.4 575.9,445.7 574.1,441.9 577.3,443.2 578.0,440.1 581.2,443.2 582.9,438.1 583.5,442.0 585.8,441.3 586.5,444.3 589.5,443.1 588.2,446.6 592.3,447.2 587.7,449.7" fill="#4ca664" />
<polygon points="594.5,440.0 637.4,451.5 637.1,481.2 594.5,462.5" fill="#e9f0fa" stroke="#27a8e0" stroke-width="3.1" stroke-linejoin="round" />
<polygon points="636.4,451.1 666.9,423.6 667.0,450.0 637.1,481.2" fill="#e9f0fa" stroke="#27a8e0" stroke-width="3.1" stroke-linejoin="round" />
<polygon points="595.2,432.0 626.5,406.1 666.9,423.6 636.4,451.1" fill="#d6e6f6" stroke="#27a8e0" stroke-width="3.1" stroke-linejoin="round" />
<polygon points="595.2,432.0 636.4,451.1 631.1,462.5 590.7,441.9" fill="#d6e6f6" stroke="#27a8e0" stroke-width="3.1" stroke-linejoin="round" />
<polygon points="660.3,446.6 664.7,446.6 666.6,475.9 658.4,475.9" fill="#7b6262" />
<path d="M656.4,455.7 A9.2,9.2 0 0 1 649.4,449.7 A10.1,10.1 0 0 1 647.5,439.8 A9.5,9.5 0 0 1 651.7,431.2 A8.9,8.9 0 0 1 659.6,427.1 A8.2,8.2 0 0 1 667.8,427.6 A11.3,11.3 0 0 1 675.8,435.6 A7.6,7.6 0 0 1 677.3,443.0 A11.5,11.5 0 0 1 672.0,453.2 A7.9,7.9 0 0 1 665.1,456.8 A8.8,8.8 0 0 1 656.4,455.7Z" fill="#388a4b"/>
<polygon points="669.0,448.3 666.5,448.5 668.2,452.5 662.9,448.4 660.5,452.4 659.9,449.2 655.6,452.2 657.1,447.4 653.7,448.3 655.6,444.0 649.4,444.0 654.2,441.4 649.5,439.1 655.4,438.3 653.6,433.2 657.2,434.6 657.4,430.7 660.2,434.3 661.8,430.4 664.0,432.7 666.3,431.7 666.4,435.6 673.3,433.9 670.3,438.1 673.4,439.2 670.2,441.3 673.6,443.7 669.4,444.9" fill="#4ca664" />
<polygon points="681.6,460.0 686.0,460.0 687.9,489.2 679.7,489.2" fill="#7b6262" />
<path d="M684.3,469.7 A8.4,8.4 0 0 1 676.2,467.7 A8.0,8.0 0 0 1 670.1,462.5 A9.3,9.3 0 0 1 668.5,453.4 A10.0,10.0 0 0 1 672.9,444.4 A9.3,9.3 0 0 1 681.3,440.4 A10.0,10.0 0 0 1 691.1,442.4 A7.4,7.4 0 0 1 696.3,447.8 A9.2,9.2 0 0 1 698.3,456.8 A11.0,11.0 0 0 1 693.1,466.5 A9.3,9.3 0 0 1 684.3,469.7Z" fill="#388a4b"/>
<polygon points="696.3,458.1 690.2,458.4 691.5,460.9 687.7,461.8 688.8,465.3 684.7,463.2 683.5,465.6 681.8,462.5 676.7,465.3 678.9,460.8 675.6,461.6 676.8,457.6 672.9,457.2 674.7,454.5 671.4,452.3 676.6,451.4 673.2,446.8 678.7,447.6 679.0,442.8 681.6,447.5 683.7,442.5 685.9,446.3 690.1,443.0 688.8,448.5 693.0,448.1 691.4,451.5 694.2,452.4 691.4,454.6" fill="#4ca664" />
<line x1="173.4" y1="376.6" x2="280" y2="310.1" stroke="#231f20" stroke-width="1.4"/>
<polygon points="280,310.1 277.0,314.8 274.5,310.7" fill="#231f20"/>
<line x1="369.7" y1="459.3" x2="408.5" y2="371.7" stroke="#231f20" stroke-width="1.4"/>
<polygon points="408.5,371.7 408.7,377.2 404.3,375.3" fill="#231f20"/>
<line x1="678.5" y1="503.1" x2="707.2" y2="477.4" stroke="#231f20" stroke-width="1.3"/>
<line x1="675.2" y1="499.4" x2="681.8" y2="506.8" stroke="#231f20" stroke-width="1.3"/>
<line x1="703.9" y1="473.7" x2="710.5" y2="481.1" stroke="#231f20" stroke-width="1.3"/>
<line x1="811.3" y1="402.9" x2="846.5" y2="420.5" stroke="#231f20" stroke-width="1.3"/>
<line x1="813.5" y1="398.5" x2="809.1" y2="407.3" stroke="#231f20" stroke-width="1.3"/>
<line x1="848.7" y1="416.1" x2="844.3" y2="424.9" stroke="#231f20" stroke-width="1.3"/>
<line x1="899.5" y1="302.4" x2="912.4" y2="291.2" stroke="#231f20" stroke-width="1.3"/>
<line x1="896.3" y1="298.7" x2="902.7" y2="306.1" stroke="#231f20" stroke-width="1.3"/>
<line x1="909.2" y1="287.5" x2="915.6" y2="294.9" stroke="#231f20" stroke-width="1.3"/>
</svg>
<div class="t" style="left:22.6px;top:379px">Parking and driveway areas do not occupy<br>more than 60% of site frontage</div>
<div class="t" style="left:236.8px;top:465.1px">Offices and display rooms do not<br>exceed 50% of the front setback area</div>
<div class="t" style="left:717.6px;top:467.5px">5m front setback or<br>average building line</div>
<div class="t" style="left:854.8px;top:411px">Merit-based approach<br>to side setback</div>
<div class="t" style="left:918px;top:257px">1.5m rear setback to<br>drainage reserves</div>
<div class="r" style="left:929.2px;top:309.8px;transform:rotate(24deg)">Property boundary</div>
<div class="r" style="left:716.4px;top:513.8px;transform:rotate(24deg)">Property boundary</div>
</div></body></html>
